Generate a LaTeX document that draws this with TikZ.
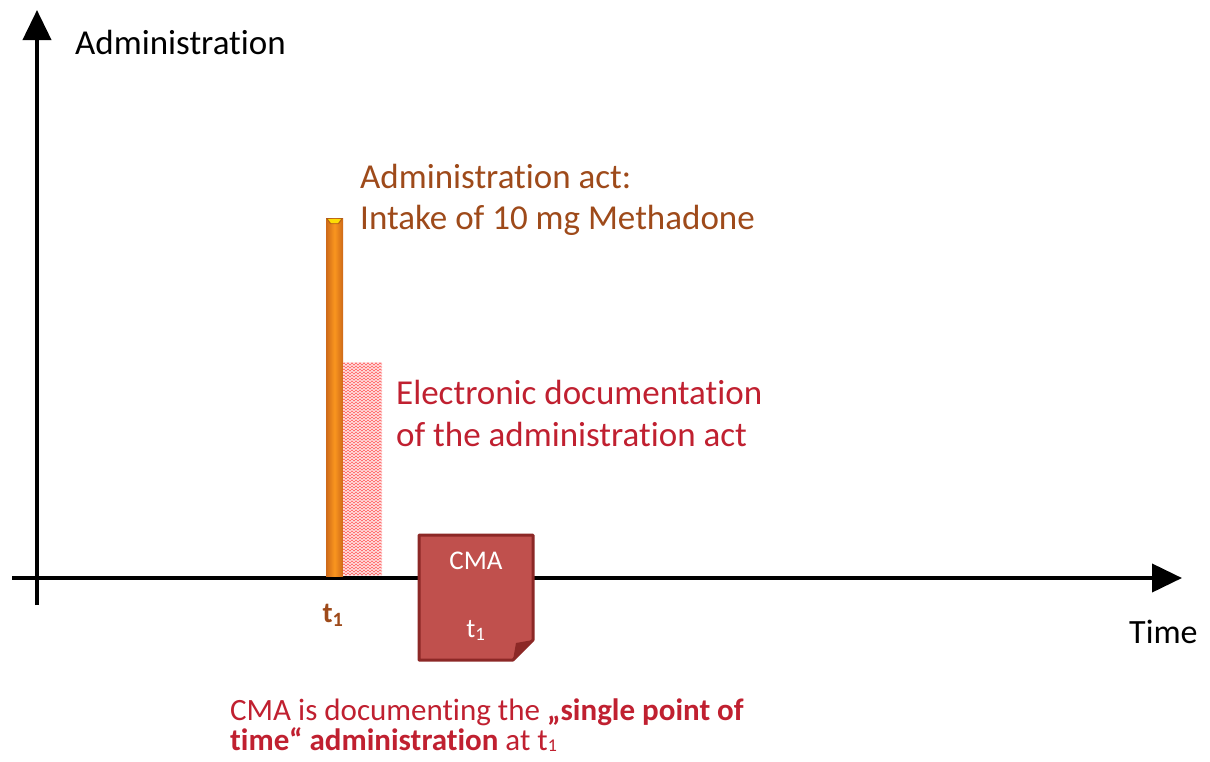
\documentclass[tikz,border=0pt]{standalone}
\usepackage{fontspec}
\setmainfont{Carlito}[Ligatures=NoCommon]
\usetikzlibrary{arrows.meta,decorations.pathmorphing}
\definecolor{brownt}{RGB}{158,74,26}
\definecolor{redt}{RGB}{192,32,48}
\definecolor{cmafill}{RGB}{192,80,77}
\definecolor{cmaedge}{RGB}{140,40,38}
\definecolor{barmid}{RGB}{250,150,30}
\definecolor{bardark}{RGB}{205,105,25}
\tikzset{
  lbl/.style={inner sep=0pt, anchor=base west},
  axis/.style={line width=4pt, -{Triangle[length=30pt,width=28pt]}},
}
\begin{document}
\begin{tikzpicture}[x=1pt,y=-1pt]
\useasboundingbox (0,0) rectangle (1210,761);
% axes
\coordinate (yb) at (37,605);
\coordinate (yt) at (37,10);
\coordinate (xl) at (12,578);
\coordinate (xr) at (1182,578);
\draw[axis] (yb) -- (yt);
\draw[axis] (xl) -- (xr);
% labels
\node[lbl, font=\fontsize{35}{40}\selectfont] (admin) at (75,54) {Administration};
\node[lbl, font=\fontsize{34}{40}\selectfont] (time) at (1129,643) {Time};
% orange bar
\shade[left color=bardark, right color=bardark, middle color=barmid] (326,218) rectangle (343,576);
\fill[bardark!70!black, opacity=0.5] (326,218) -- (343,218) -- (339,224) -- (330,224) -- cycle;
\fill[yellow!80!orange] (328,219) -- (341,219) -- (338,223) -- (331,223) -- cycle;
% hatched bar
\fill[red!10] (343,362) rectangle (382,576);
\begin{scope}
\clip (343,362) rectangle (382,576);
\foreach \yy in {364,367,...,576}{
  \draw[red!60, line width=0.6pt, decorate, decoration={zigzag, segment length=4pt, amplitude=1.2pt}] (343,\yy) -- (382,\yy);
}
\end{scope}
% texts
\node[lbl, text=brownt, font=\fontsize{35}{41}\selectfont] (act1) at (360,188) {Administration act:};
\node[lbl, text=brownt, font=\fontsize{35}{41}\selectfont] (act2) at (360,229) {Intake of 10 mg Methadone};
\node[lbl, text=redt, font=\fontsize{35}{41}\selectfont] (el1) at (396,404) {Electronic documentation};
\node[lbl, text=redt, font=\fontsize{35}{41}\selectfont] (el2) at (396,446) {of the administration act};
\node[inner sep=0pt, anchor=base, text=brownt, font=\fontsize{29}{32}\bfseries\selectfont] (t1) at (333,622) {t\textsubscript{1}};
% CMA document
\draw[cmaedge, fill=cmafill, line width=3pt, line join=round] (419,535) -- (533,535) -- (533,640) -- (513,660) -- (419,660) -- cycle;
\fill[cmaedge] (513,660) -- (516,643) -- (533,640) -- cycle;
\node[inner sep=0pt, anchor=base, text=white, font=\fontsize{27}{32}\selectfont] (cma) at (476,569) {CMA};
\node[inner sep=0pt, anchor=base, text=white, font=\fontsize{27}{32}\selectfont] (cmat) at (476,637) {t\textsubscript{1}};
% bottom text
\node[lbl, text=redt, font=\fontsize{31}{32}\selectfont] (b1) at (230,720) {CMA is documenting the \textbf{„single point of}};
\node[lbl, text=redt, font=\fontsize{31}{32}\selectfont] (b2) at (230,750) {\textbf{time“ administration} at t\raisebox{-1pt}{\fontsize{18}{20}\selectfont 1}};
\end{tikzpicture}
\end{document}
